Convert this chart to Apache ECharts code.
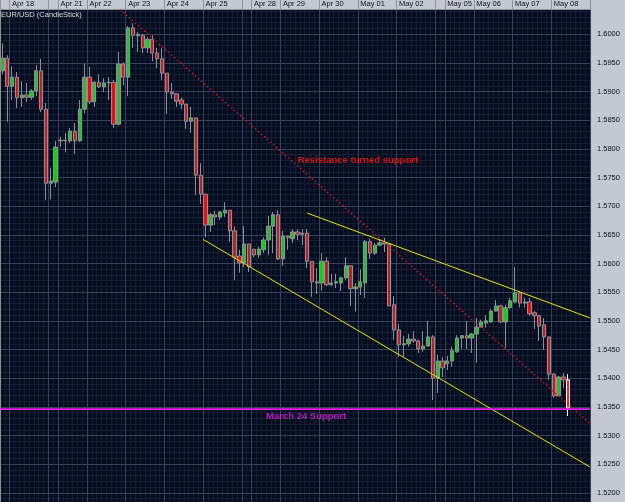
<!DOCTYPE html>
<html><head><meta charset="utf-8">
<script src="https://cdn.jsdelivr.net/npm/echarts@6/dist/echarts.min.js"></script>
<style>html,body{margin:0;padding:0;background:#060d1f;}#c{width:625px;height:502px;}</style>
</head><body><div id="c"></div><script>
// ---- data ----
const dayNames   = ['Apr 17','Apr 18','Apr 20','Apr 21','Apr 22','Apr 23','Apr 24','Apr 25','Apr 27','Apr 28','Apr 29','Apr 30','May 01','May 02','May 04','May 05','May 06','May 07','May 08'];
const dayCandles = [2,8,2,6,8,8,8,8,2,6,8,8,8,8,2,6,8,8,8];
const tickLabels = ['Apr 18','Apr 21','Apr 22','Apr 23','Apr 24','Apr 25','Apr 28','Apr 29','Apr 30','May 01','May 02','May 05','May 06','May 07','May 08'];
const opens = [1.5936,1.5958,1.5909,1.5925,1.5889,1.5894,1.5890,1.5901,1.5936,1.5869,1.5740,1.5742,1.5815,1.5814,1.5814,1.5831,1.5814,1.5869,1.5925,1.5882,
1.5916,1.5908,1.5915,1.5916,1.5843,1.5948,1.5925,1.6011,1.5997,1.5998,1.5976,1.5991,1.5967,1.5957,1.5932,1.5899,1.5896,1.5885,1.5878,1.5848,
1.5854,1.5754,1.5721,1.5667,1.5685,1.5681,1.5688,1.5693,1.5657,1.5613,1.5601,1.5634,1.5625,1.5615,1.5624,1.5641,1.5665,1.5685,1.5608,1.5648,
1.5643,1.5655,1.5651,1.5653,1.5604,1.5568,1.5566,1.5604,1.5563,1.5566,1.5566,1.5575,1.5596,1.5556,1.5559,1.5566,1.5638,1.5618,1.5632,1.5636,
1.5634,1.5528,1.5484,1.5458,1.5460,1.5468,1.5465,1.5451,1.5456,1.5472,1.5400,1.5430,1.5425,1.5430,1.5446,1.5470,1.5474,1.5470,1.5477,1.5489,
1.5496,1.5498,1.5517,1.5526,1.5498,1.5523,1.5533,1.5549,1.5531,1.5533,1.5514,1.5509,1.5493,1.5472,1.5407,1.5369,1.5402,1.5397];
const closes = [1.5958,1.5909,1.5925,1.5889,1.5894,1.5890,1.5901,1.5936,1.5869,1.5740,1.5744,1.5803,1.5814,1.5815,1.5831,1.5814,1.5869,1.5925,1.5882,1.5916,
1.5908,1.5915,1.5916,1.5843,1.5948,1.5925,1.6011,1.5998,1.6000,1.5976,1.5991,1.5967,1.5957,1.5932,1.5899,1.5896,1.5883,1.5878,1.5848,1.5854,
1.5754,1.5721,1.5667,1.5685,1.5681,1.5690,1.5693,1.5657,1.5611,1.5601,1.5634,1.5594,1.5615,1.5625,1.5641,1.5665,1.5685,1.5608,1.5648,1.5645,
1.5655,1.5651,1.5653,1.5604,1.5568,1.5566,1.5604,1.5563,1.5566,1.5568,1.5575,1.5596,1.5556,1.5559,1.5568,1.5638,1.5618,1.5632,1.5636,1.5634,
1.5526,1.5484,1.5458,1.5460,1.5468,1.5465,1.5451,1.5456,1.5472,1.5400,1.5430,1.5418,1.5430,1.5448,1.5470,1.5474,1.5470,1.5477,1.5489,1.5498,
1.5500,1.5517,1.5526,1.5498,1.5523,1.5535,1.5549,1.5531,1.5533,1.5512,1.5509,1.5491,1.5472,1.5407,1.5369,1.5402,1.5397,1.5348];
const lows = [1.5930,1.5847,1.5885,1.5871,1.5873,1.5882,1.5885,1.5892,1.5864,1.5711,1.5712,1.5733,1.5803,1.5794,1.5810,1.5791,1.5812,1.5862,1.5878,1.5873,
1.5906,1.5899,1.5885,1.5836,1.5841,1.5911,1.5892,1.5976,1.5969,1.5967,1.5967,1.5953,1.5941,1.5920,1.5861,1.5887,1.5873,1.5869,1.5835,1.5828,
1.5719,1.5704,1.5646,1.5655,1.5667,1.5676,1.5681,1.5638,1.5571,1.5584,1.5594,1.5585,1.5611,1.5610,1.5618,1.5615,1.5618,1.5606,1.5596,1.5624,
1.5636,1.5641,1.5632,1.5592,1.5542,1.5547,1.5552,1.5561,1.5561,1.5557,1.5552,1.5571,1.5526,1.5516,1.5545,1.5540,1.5608,1.5615,1.5632,1.5620,
1.5526,1.5467,1.5437,1.5437,1.5455,1.5462,1.5444,1.5446,1.5455,1.5362,1.5374,1.5402,1.5414,1.5420,1.5444,1.5451,1.5451,1.5444,1.5427,1.5488,
1.5488,1.5496,1.5516,1.5496,1.5453,1.5521,1.5531,1.5523,1.5523,1.5509,1.5486,1.5465,1.5449,1.5397,1.5366,1.5369,1.5383,1.5334];
const highs = [1.5984,1.5963,1.5944,1.5934,1.5918,1.5915,1.5904,1.5946,1.5957,1.5880,1.5767,1.5814,1.5821,1.5828,1.5836,1.5845,1.5885,1.5948,1.5943,1.5918,
1.5930,1.5923,1.5925,1.5920,1.5969,1.5951,1.6014,1.6019,1.6004,1.6000,1.5995,1.5998,1.5976,1.5976,1.5932,1.5915,1.5896,1.5889,1.5878,1.5873,
1.5854,1.5775,1.5721,1.5688,1.5692,1.5692,1.5707,1.5693,1.5665,1.5624,1.5665,1.5634,1.5625,1.5629,1.5646,1.5683,1.5690,1.5693,1.5657,1.5648,
1.5660,1.5660,1.5660,1.5660,1.5604,1.5592,1.5618,1.5611,1.5582,1.5582,1.5577,1.5611,1.5596,1.5566,1.5590,1.5641,1.5643,1.5636,1.5643,1.5645,
1.5636,1.5543,1.5495,1.5474,1.5477,1.5482,1.5467,1.5482,1.5500,1.5475,1.5441,1.5437,1.5439,1.5455,1.5475,1.5475,1.5500,1.5479,1.5505,1.5502,
1.5510,1.5521,1.5536,1.5528,1.5528,1.5540,1.5594,1.5552,1.5540,1.5540,1.5517,1.5510,1.5505,1.5472,1.5409,1.5404,1.5409,1.5407];
// trend lines: [slot position, price]
const resistanceLine = [[24.8, 1.6043], [122, 1.5321]];
const upperChannel   = [[63.5, 1.5688], [122, 1.5505]];
const lowerChannel   = [[42.0, 1.5642], [122, 1.5245]];
const supportLevel   = 1.5346;
const annotationText = ['Resistance turned support', 'March 24 Support'];
const annotationAt   = [[74.0, 1.5780], [63.3, 1.5334]];

// ---- build ----
const FONT = '"Liberation Sans", Arial, sans-serif';
const categories = [];
const dayStart = new Set();
const labelIdx = new Set();
dayNames.forEach((d, i) => {
  dayStart.add(categories.length);
  if (tickLabels.indexOf(d) >= 0) labelIdx.add(categories.length);
  for (let k = 0; k < dayCandles[i]; k++) categories.push(d + ' ' + String(k * 3).padStart(2, '0') + ':00');
});
const nSlots = categories.length;
const candles = opens.map((o, i) => {
  const v = [o, closes[i], lows[i], highs[i]];
  if (i === opens.length - 1) return { value: v, itemStyle: { color: '#ff2020', color0: '#ff2020', borderColor: '#ffffff', borderColor0: '#ffffff' } };
  return v;
});

const chart = echarts.init(document.getElementById('c'));
const lineSeries = (data, color, type, width) => ({
  type: 'line', xAxisIndex: 1, yAxisIndex: 0, data: data, symbol: 'none', silent: true, z: 5,
  lineStyle: { color: color, width: width, type: type }
});
chart.setOption({
  backgroundColor: '#060d1f',
  animation: false,
  grid: { left: 0, right: 35, top: 9.5, bottom: 0 },
  graphic: [
    { type: 'rect', z: 0, shape: { x: 0, y: 0, width: 625, height: 9.5 }, style: { fill: '#c4c9d1' } },
    { type: 'rect', z: 0, shape: { x: 590, y: 0, width: 35, height: 502 }, style: { fill: '#c4c9d1' } },
    { type: 'text', z: 10, x: 1, y: 11, style: { text: 'EUR/USD (CandleStick)', fill: '#dcdcdc', font: '7.5px ' + FONT } }
  ],
  xAxis: [
    { type: 'category', data: categories, position: 'top', boundaryGap: true, z: 3,
      axisLine: { show: true, lineStyle: { color: '#8d939c' } },
      axisTick: { show: true, interval: (i) => dayStart.has(i), length: 9.5, lineStyle: { color: '#8d939c' } },
      axisLabel: { show: true, interval: (i) => labelIdx.has(i), formatter: (v) => v.slice(0, 6),
        align: 'left', margin: 1.5, fontSize: 7.5, color: '#111', fontFamily: FONT },
      splitLine: { show: true, interval: (i) => dayStart.has(i), lineStyle: { color: '#36405a', width: 1 } } },
    { type: 'value', min: 0, max: nSlots, interval: 1, position: 'bottom', z: 1,
      axisLine: { show: false }, axisTick: { show: false }, axisLabel: { show: false },
      splitLine: { show: true, lineStyle: { color: '#131d32', width: 1 } } }
  ],
  yAxis: [
    { type: 'value', position: 'right', min: 1.5184, max: 1.6043, splitNumber: 17, scale: true, z: 3,
      axisLine: { show: true, lineStyle: { color: '#8d939c' } }, axisTick: { show: false },
      axisLabel: { margin: 7, fontSize: 7.5, color: '#111', fontFamily: FONT, align: 'left',
        formatter: (v) => { const r = Math.round(v / 0.005) * 0.005; return Math.abs(r - v) < 1e-7 ? v.toFixed(4) : ''; } },
      splitLine: { show: true, lineStyle: { color: '#36405a' } },
      minorTick: { show: false, splitNumber: 5 },
      minorSplitLine: { show: true, lineStyle: { color: '#141e33' } } }
  ],
  series: [
    { type: 'candlestick', xAxisIndex: 0, yAxisIndex: 0, data: candles, barWidth: 3.8, z: 3,
      itemStyle: { color: '#22c422', color0: '#cf1a1a', borderColor: '#8b9099', borderColor0: '#8b9099', borderWidth: 1 } },
    lineSeries(resistanceLine, '#d8102a', [1.5, 2.5], 1.4),
    lineSeries(upperChannel, '#e6e600', 'solid', 1),
    lineSeries(lowerChannel, '#e6e600', 'solid', 1),
    lineSeries([[0, supportLevel], [nSlots, supportLevel]], '#e81ee8', 'solid', 1.6),
    { type: 'scatter', xAxisIndex: 1, yAxisIndex: 0, silent: true, z: 6, symbolSize: 1,
      itemStyle: { color: 'rgba(0,0,0,0)' },
      data: annotationAt.map((p, i) => ({
        value: p,
        label: { show: true, position: 'inside', formatter: annotationText[i], fontWeight: 'bold', fontSize: 9.5, fontFamily: FONT,
          color: i === 0 ? '#ff1a1a' : '#e020e0' }
      })) }
  ]
});
</script></body></html>
